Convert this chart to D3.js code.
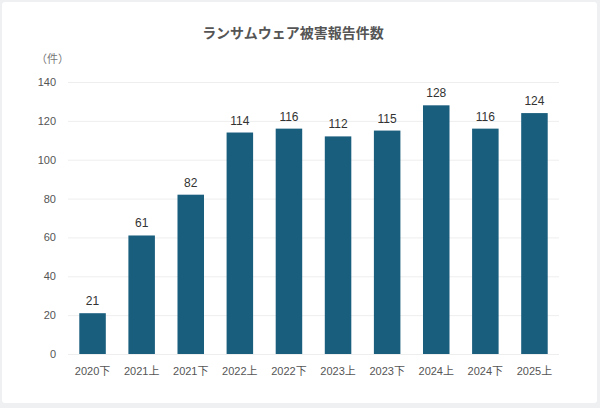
<!DOCTYPE html>
<html>
<head>
<meta charset="utf-8">
<script src="https://cdn.jsdelivr.net/npm/d3@7"></script>
<style>
  html, body { margin: 0; padding: 0; background: #eef0f2; }
  #chart { width: 600px; height: 408px; }
  text { font-family: "Liberation Sans", "Noto Sans CJK JP", sans-serif; }
</style>
</head>
<body>
<div id="chart"></div>
<script>
const categories = ["2020下", "2021上", "2021下", "2022上", "2022下", "2023上", "2023下", "2024上", "2024下", "2025上"];
const counts = [21, 61, 82, 114, 116, 112, 115, 128, 116, 124];
const yTicks = [0, 20, 40, 60, 80, 100, 120, 140];
const chartTitle = "ランサムウェア被害報告件数";
const unitLabel = "（件）";

const W = 600, H = 408;
const margin = { top: 82, right: 41, bottom: 54, left: 68 };
const width = W - margin.left - margin.right,
    height = H - margin.top - margin.bottom;

const svg = d3.select("#chart")
    .append("svg")
    .attr("width", W)
    .attr("height", H);

// card
svg.append("rect")
    .attr("x", 2).attr("y", 2)
    .attr("width", 595).attr("height", 401)
    .attr("rx", 3)
    .attr("fill", "#fff");

svg.append("text")
    .attr("x", 293)
    .attr("y", 38)
    .attr("text-anchor", "middle")
    .style("font-family", "'Noto Sans CJK JP', sans-serif")
    .style("font-size", "14px")
    .style("font-weight", "bold")
    .style("fill", "#555")
    .text(chartTitle);

svg.append("text")
    .attr("x", 36)
    .attr("y", 63)
    .style("font-family", "'Noto Sans CJK JP', sans-serif")
    .style("font-size", "11px")
    .style("fill", "#777")
    .text(unitLabel);

const g = svg.append("g")
    .attr("transform", `translate(${margin.left}, ${margin.top})`);

const x = d3.scaleBand()
    .domain(categories)
    .range([0, width])
    .paddingInner(0.46)
    .paddingOuter(0.23);

const y = d3.scaleLinear()
    .domain([0, 140])
    .range([height, 0]);

// gridlines + y labels
const yAxis = g.append("g")
    .call(d3.axisLeft(y).tickValues(yTicks).tickSize(-width).tickPadding(12));
yAxis.select(".domain").remove();
yAxis.selectAll(".tick line").attr("stroke", "#eeeeee");
yAxis.selectAll(".tick text")
    .style("font-size", "11px")
    .style("fill", "#555");

// bars
g.selectAll("rect.bar")
    .data(counts)
    .enter()
    .append("rect")
    .attr("class", "bar")
    .attr("x", (d, i) => x(categories[i]))
    .attr("y", d => y(d))
    .attr("width", x.bandwidth())
    .attr("height", d => height - y(d))
    .attr("fill", "#1a5e7e");

// value labels
g.selectAll("text.val")
    .data(counts)
    .enter()
    .append("text")
    .attr("class", "val")
    .attr("x", (d, i) => x(categories[i]) + x.bandwidth() / 2)
    .attr("y", d => y(d) - 8)
    .attr("text-anchor", "middle")
    .style("font-size", "12px")
    .style("fill", "#333")
    .text(d => d);

// x axis
const xAxis = g.append("g")
    .attr("transform", `translate(0, ${height})`)
    .call(d3.axisBottom(x).tickSize(0).tickPadding(13));
xAxis.select(".domain").remove();
xAxis.selectAll(".tick text")
    .style("font-family", "'Liberation Sans', 'Noto Sans CJK JP', sans-serif")
    .style("font-size", "11px")
    .style("fill", "#555");
</script>
</body>
</html>
